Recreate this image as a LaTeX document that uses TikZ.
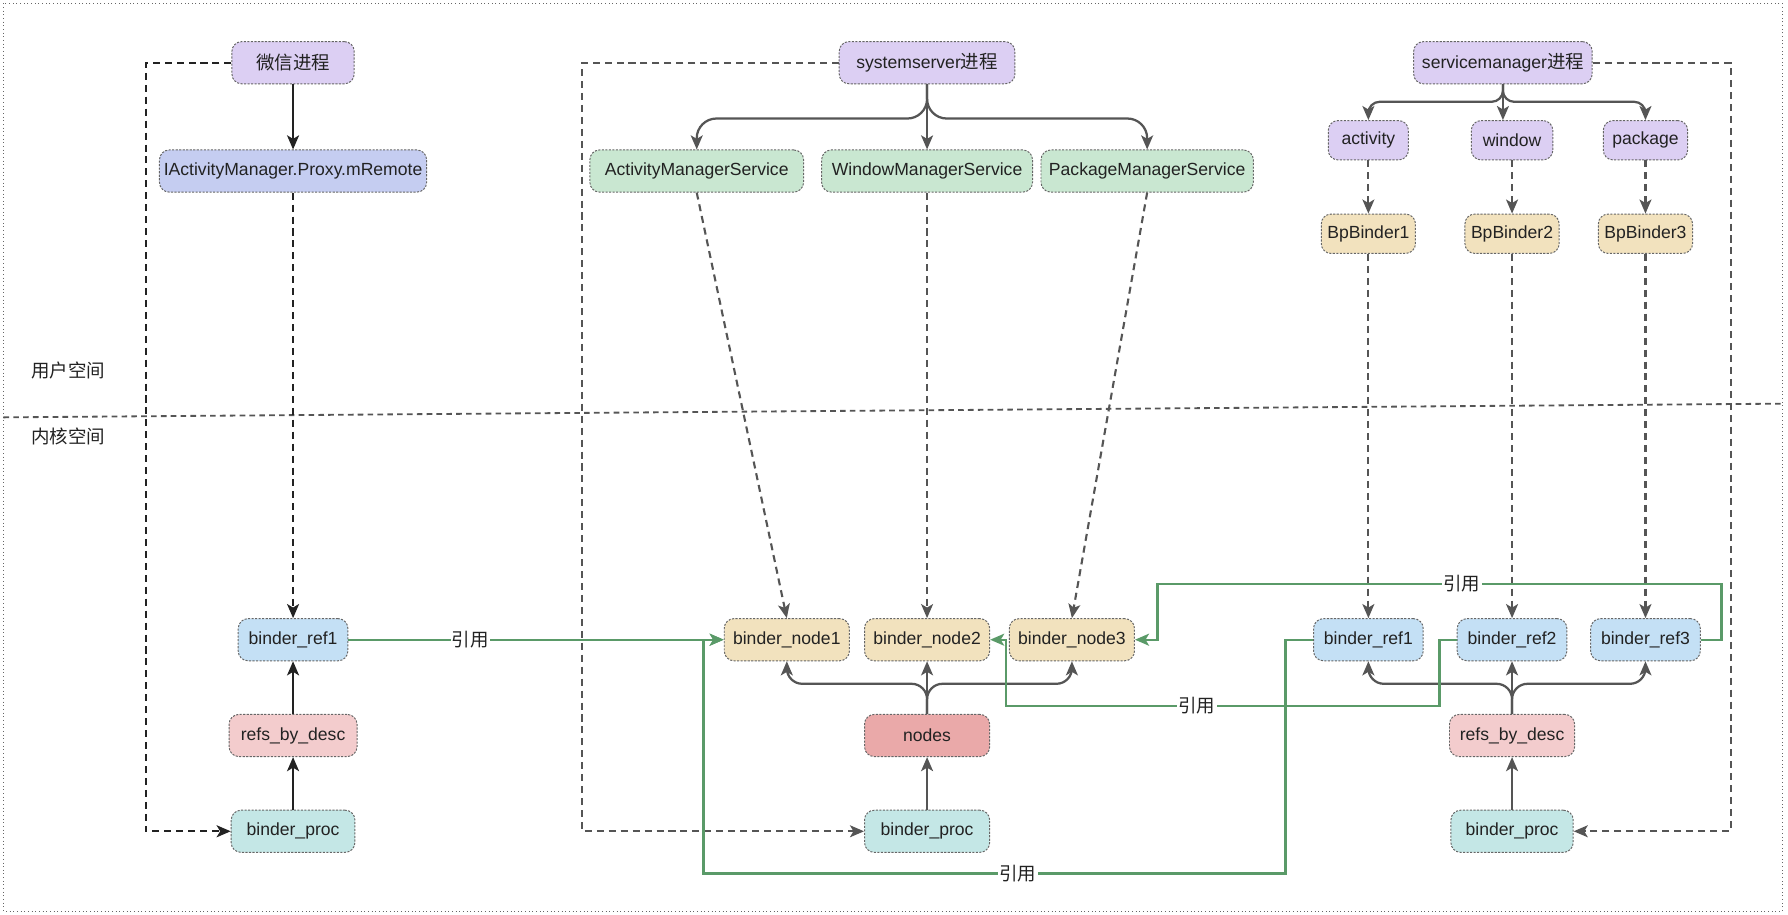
\documentclass[tikz,border=0pt]{standalone}
\usepackage{fontspec}
\setmainfont{Liberation Sans}
\newfontfamily\cjk[Scale=1.05]{Noto Sans CJK SC}
\usetikzlibrary{arrows.meta,calc}

\definecolor{procfill}{HTML}{DCCFF3}
\definecolor{proxyfill}{HTML}{C5CDF1}
\definecolor{svcfill}{HTML}{C9E7D1}
\definecolor{nodefill}{HTML}{F2E2BE}
\definecolor{reffill}{HTML}{C4E0F5}
\definecolor{descfill}{HTML}{F3CCCD}
\definecolor{hotfill}{HTML}{EAA9A9}
\definecolor{procbfill}{HTML}{C4E7E6}
\definecolor{boxline}{HTML}{666666}
\definecolor{refgreen}{HTML}{5A9A68}
\definecolor{arrowgray}{HTML}{555555}
\definecolor{arrowdark}{HTML}{222222}

\newcommand{\zh}[1]{{\cjk #1}}

\tikzset{
  box/.style={draw=boxline,dash pattern=on 1.5pt off 1pt,line width=0.7pt,
    rounded corners=7pt,minimum height=30pt,inner xsep=1pt,text=arrowdark},
  proc/.style={box,fill=procfill},
  small/.style={minimum height=28pt},
  proxy/.style={box,fill=proxyfill},
  svc/.style={box,fill=svcfill},
  bnode/.style={box,fill=nodefill},
  ref/.style={box,fill=reffill},
  desc/.style={box,fill=descfill},
  hot/.style={box,fill=hotfill},
  bproc/.style={box,fill=procbfill},
  note/.style={text=arrowdark},
  darkarrow/.style={draw=arrowdark,line width=1.7pt},
  grayarrow/.style={draw=arrowgray,line width=1.6pt},
  darkdash/.style={draw=arrowdark,line width=1.6pt,dash pattern=on 5pt off 3.5pt},
  graydash/.style={draw=arrowgray,line width=1.5pt,dash pattern=on 5pt off 3.5pt},
  tree/.style={rounded corners=14pt},
  refline/.style={draw=refgreen,line width=1.7pt},
  lbl/.style={fill=white,inner sep=1pt,text=arrowdark}
}

\begin{document}
\begin{tikzpicture}[x=0.0285cm,y=-0.0285cm,>={Stealth[length=10pt,width=8.5pt,inset=2.5pt]},
    font=\fontsize{12.5}{15}\selectfont]
  \useasboundingbox (0,0) rectangle (1568,802);
  \draw[boxline,line width=0.6pt,dotted] (3,3) rectangle (1563,799);
  % user space / kernel space
  \draw[arrowgray,line width=1.3pt,dash pattern=on 4pt off 3pt] (3,366) -- (1562,354);
  \node[note] (user) at (60,325) {\zh{用户空间}};
  \node[note] (kernel) at (60,383) {\zh{内核空间}};

  % wechat process
  \node[proc,minimum width=87pt] (wechat) at (257,55) {\zh{微信进程}};
  \node[proxy,minimum width=190pt] (mremote) at (257,150) {IActivityManager.Proxy.mRemote};
  \node[ref,minimum width=78pt] (wref) at (257,561) {binder\_ref1};
  \node[desc,minimum width=91pt] (wdesc) at (257,645) {refs\_by\_desc};
  \node[bproc,minimum width=88pt] (wproc) at (257,729) {binder\_proc};
  \draw[darkarrow,->] (wechat) -- (mremote);
  \draw[darkdash,->] (mremote) -- (wref);
  \draw[darkarrow,->] (wdesc) -- (wref);
  \draw[darkarrow,->] (wproc) -- (wdesc);
  \draw[darkdash,->] (wechat.west) -- ++(-75,0) |- (wproc.west);

  % systemserver process
  \node[proc,minimum width=125pt] (ss) at (813,55) {systemserver\zh{进程}};
  \node[svc,minimum width=152pt] (ams) at (611,150) {ActivityManagerService};
  \node[svc,minimum width=150pt] (wms) at (813,150) {WindowManagerService};
  \node[svc,minimum width=151pt] (pms) at (1006,150) {PackageManagerService};
  \node[bnode,minimum width=89pt] (bn1) at (690,561) {binder\_node1};
  \node[bnode,minimum width=89pt] (bn2) at (813,561) {binder\_node2};
  \node[bnode,minimum width=89pt] (bn3) at (940,561) {binder\_node3};
  \node[hot,minimum width=89pt] (nodes) at (813,645) {nodes};
  \node[bproc,minimum width=89pt] (ssproc) at (813,729) {binder\_proc};
  \draw[grayarrow,->] (ss) -- (wms);
  \foreach \s in {ams,pms}
    \draw[grayarrow,tree,->] (ss.south) |- ([yshift=22pt]\s.north) -- (\s.north);
  \foreach \s/\n in {ams/bn1,wms/bn2,pms/bn3}
    \draw[graydash,->] (\s.south) -- (\n.north);
  \draw[grayarrow,->] (nodes) -- (bn2);
  \foreach \n in {bn1,bn3}
    \draw[grayarrow,rounded corners=11pt,->] (nodes.north) |- ([yshift=-16pt]\n.south) -- (\n.south);
  \draw[grayarrow,->] (ssproc) -- (nodes);
  \draw[graydash,->] (ss.west) -- ++(-225,0) |- (ssproc.west);

  % servicemanager process
  \node[proc,minimum width=127pt] (sm) at (1318,55) {servicemanager\zh{进程}};
  \node[proc,small,minimum width=57pt] (act) at (1200,123) {activity};
  \node[proc,small,minimum width=58pt] (win) at (1326,123) {window};
  \node[proc,small,minimum width=60pt] (pkg) at (1443,123) {package};
  \node[bnode,small,minimum width=67pt] (bp1) at (1200,205) {BpBinder1};
  \node[bnode,small,minimum width=67pt] (bp2) at (1326,205) {BpBinder2};
  \node[bnode,small,minimum width=67pt] (bp3) at (1443,205) {BpBinder3};
  \node[ref,minimum width=78pt] (rref1) at (1200,561) {binder\_ref1};
  \node[ref,minimum width=78pt] (rref2) at (1326,561) {binder\_ref2};
  \node[ref,minimum width=78pt] (rref3) at (1443,561) {binder\_ref3};
  \node[desc,minimum width=89pt] (rdesc) at (1326,645) {refs\_by\_desc};
  \node[bproc,minimum width=87pt] (rproc) at (1326,729) {binder\_proc};
  \draw[grayarrow,->] (sm.south) -- (sm.south |- win.north);
  \foreach \s in {act,pkg}
    \draw[grayarrow,rounded corners=8pt,->] (sm.south) |- ([yshift=13pt]\s.north) -- (\s.north);
  \foreach \s/\b/\r in {act/bp1/rref1,win/bp2/rref2,pkg/bp3/rref3} {
    \draw[graydash,->] (\s) -- (\b);
    \draw[graydash,->] (\b) -- (\r);
  }
  \draw[grayarrow,->] (rdesc) -- (rref2);
  \foreach \r in {rref1,rref3}
    \draw[grayarrow,rounded corners=11pt,->] (rdesc.north) |- ([yshift=-16pt]\r.south) -- (\r.south);
  \draw[grayarrow,->] (rproc) -- (rdesc);
  \draw[graydash,->] (sm.east) -- ++(121,0) |- (rproc.east);

  % references to binder nodes
  \draw[refline,->] (wref) -- node[lbl,pos=0.325] {\zh{引用}} (bn1);
  \draw[refline,->] (rref1.west) -- ++(-24,0) |- node[lbl,pos=0.73] {\zh{引用}} (617,766) |- (bn1.west);
  \draw[refline,->] (rref2.west) -- ++(-15,0) |- node[lbl,pos=0.78] {\zh{引用}} (882,619) |- (bn2.east);
  \draw[refline,->] (rref3.east) -- ++(18,0) |- node[lbl,pos=0.73] {\zh{引用}} (1015,512) |- (bn3.east);
\end{tikzpicture}
\end{document}
